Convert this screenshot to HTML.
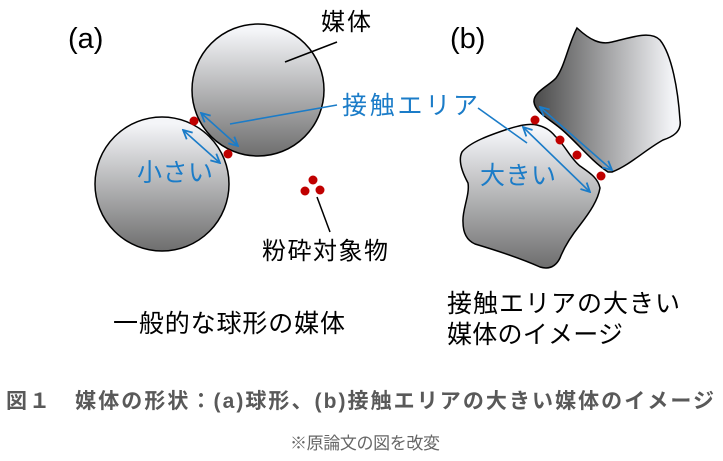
<!DOCTYPE html>
<html><head><meta charset="utf-8"><style>
html,body{margin:0;padding:0;background:#fff;}
svg{display:block;}
text{font-family:"Liberation Sans","Noto Sans CJK JP",sans-serif;}
</style></head><body>
<svg width="723" height="461" viewBox="0 0 723 461" xmlns="http://www.w3.org/2000/svg">
<defs>
<linearGradient id="gv" x1="0" y1="0" x2="0" y2="1">
<stop offset="0.05" stop-color="#f4f5f8"/><stop offset="1" stop-color="#6e6e6e"/></linearGradient>
<linearGradient id="gh" x1="0" y1="0" x2="1" y2="0">
<stop offset="0" stop-color="#4a4a4a"/><stop offset="0.95" stop-color="#f4f5f8"/></linearGradient>
<marker id="ah" viewBox="0 0 10 10" refX="9" refY="5" markerWidth="7" markerHeight="7" orient="auto-start-reverse">
<path d="M1,1 L9,5 L1,9" fill="none" stroke="#1b7cc8" stroke-width="1.6"/></marker>
</defs>
<!-- (a) -->
<text x="68" y="48" font-size="29">(a)</text>
<circle cx="258" cy="90" r="66" fill="url(#gv)" stroke="#000" stroke-width="1.5"/>
<circle cx="162" cy="184" r="67" fill="url(#gv)" stroke="#000" stroke-width="1.5"/>
<text x="321" y="30" font-size="24" textLength="50">媒体</text>
<line x1="337" y1="42" x2="285" y2="62" stroke="#000" stroke-width="1.5"/>
<line x1="230" y1="124" x2="337" y2="105" stroke="#1b7cc8" stroke-width="1.6"/>
<line x1="201" y1="113" x2="238" y2="146" stroke="#1b7cc8" stroke-width="1.6" marker-start="url(#ah)" marker-end="url(#ah)"/>
<line x1="183" y1="130" x2="220" y2="163" stroke="#1b7cc8" stroke-width="1.6" marker-start="url(#ah)" marker-end="url(#ah)"/>
<text x="137" y="181" font-size="25" fill="#1b7cc8" textLength="76">小さい</text>
<g fill="#c00000">
<circle cx="194" cy="121" r="4.5"/><circle cx="228" cy="154" r="4.5"/>
<circle cx="313" cy="180" r="4.5"/><circle cx="305" cy="191" r="4.5"/><circle cx="320" cy="190" r="4.5"/>
</g>
<line x1="317" y1="197" x2="330" y2="232" stroke="#000" stroke-width="1.5"/>
<text x="262" y="259" font-size="24" textLength="126">粉砕対象物</text>
<text x="342" y="114" font-size="25" fill="#1b7cc8" textLength="136">接触エリア</text>
<!-- (b) -->
<text x="450" y="48" font-size="29">(b)</text>
<path d="M577,28 C590,40 600,45 612,42 C630,38 650,30 660,40 C672,55 678,90 680,120 C682,132 672,137 663,140 C645,150 630,165 612,172 L608,172 C590,160 575,140 560,128 C548,118 535,112 534,102 C533,92 550,85 556,78 C565,66 568,45 577,28 Z" fill="url(#gh)" stroke="#000" stroke-width="1.5"/>
<path d="M537,125 C528,123 518,126 508,129 C490,135 470,142 462,152 C458,160 462,172 468,183 C470,195 462,210 463,222 C463,232 466,240 475,244 C495,250 520,258 540,267 C550,270 556,266 560,258 C565,245 572,235 580,225 C590,212 598,200 600,188 C598,178 590,173 580,166 C570,158 565,145 555,136 C550,130 545,127 537,125 Z" fill="url(#gv)" stroke="#000" stroke-width="1.5"/>
<line x1="540" y1="107" x2="612" y2="170" stroke="#1b7cc8" stroke-width="1.6" marker-start="url(#ah)" marker-end="url(#ah)"/>
<line x1="523" y1="127" x2="590" y2="192" stroke="#1b7cc8" stroke-width="1.6" marker-start="url(#ah)" marker-end="url(#ah)"/>
<line x1="478" y1="108" x2="527" y2="143" stroke="#1b7cc8" stroke-width="1.6"/>
<text x="480" y="184" font-size="25" fill="#1b7cc8" textLength="76">大きい</text>
<g fill="#c00000">
<circle cx="535" cy="120" r="4.5"/><circle cx="560" cy="140" r="4.5"/><circle cx="577" cy="155" r="4.5"/><circle cx="601" cy="176" r="4.5"/>
</g>
<!-- labels -->
<text x="113" y="332" font-size="25" textLength="232">一般的な球形の媒体</text>
<text x="447" y="312" font-size="25" textLength="233">接触エリアの大きい</text>
<text x="447" y="343" font-size="25" textLength="176">媒体のイメージ</text>
<text x="6" y="408" font-size="21" font-weight="bold" fill="#595959" textLength="708">図１　媒体の形状：(a)球形、(b)接触エリアの大きい媒体のイメージ</text>
<text x="290" y="449" font-size="17" fill="#666" textLength="150">※原論文の図を改変</text>
</svg>
</body></html>
